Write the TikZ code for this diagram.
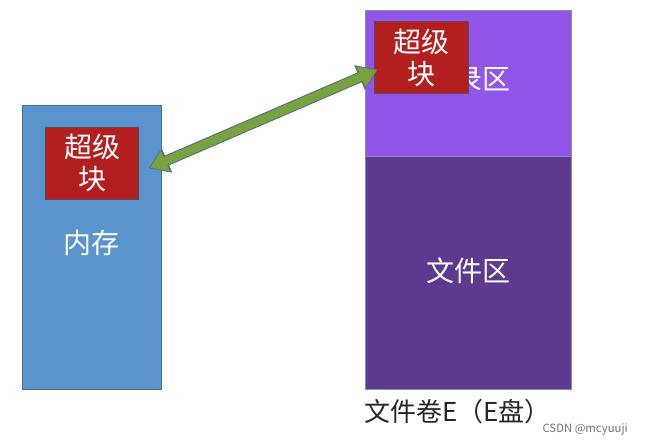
\documentclass[tikz,border=0pt]{standalone}
\usepackage{fontspec}
\setmainfont{Noto Sans CJK SC}
\usetikzlibrary{arrows.meta,positioning}
\definecolor{memblue}{HTML}{5B94CD}
\definecolor{memedge}{HTML}{41719C}
\definecolor{sbred}{HTML}{B31E1E}
\definecolor{sbedge}{HTML}{5A4A5A}
\definecolor{dirpurple}{HTML}{9156E9}
\definecolor{filepurple}{HTML}{5D3A8F}
\definecolor{voledge}{HTML}{7E8FB0}
\definecolor{arrgreen}{HTML}{78A13F}
\definecolor{arredge}{HTML}{52707E}
\begin{document}
\begin{tikzpicture}[x=0.75pt,y=-0.75pt,
  region/.style={draw=#1, line width=0.6pt, inner sep=0pt, outer sep=0pt},
  sblock/.style={fill=sbred, draw=sbedge, line width=0.6pt, minimum width=70pt, minimum height=54pt,
     inner sep=0pt, outer sep=0pt, text=white, font=\fontsize{21}{26}\selectfont, align=center},
  wlabel/.style={text=white, font=\fontsize{21}{26}\selectfont, inner sep=0pt},
]
\useasboundingbox (0,0) rectangle (645,446);
\fill[white] (0,0) rectangle (645,446);
% memory
\node[region=memedge, fill=memblue, minimum width=104.25pt, minimum height=213pt] (mem) at (91.5,247) {};
\node[wlabel] (memlbl) at (91.5,243) {内存};
\node[sblock] (sbL) at (92,163) {超级\\[-2pt]块};
% volume
\node[region=voledge, fill=dirpurple, minimum width=154.5pt, minimum height=109.5pt, anchor=north west] (dir) at (365,10) {};
\node[region=voledge, fill=filepurple, minimum width=154.5pt, minimum height=174.75pt, anchor=north west] (files) at (365,156) {};
\node[wlabel] (dirlbl) at (468,80) {目录区};
\node[wlabel] (filelbl) at (468,271) {文件区};
\node[sblock] (sbR) at (421.5,57.5) {超级\\[-2pt]块};
\node[font=\fontsize{19.5}{24}\selectfont, text=black!85, anchor=west, inner sep=0pt] (vollbl) at (364,412) {文件卷E（E盘）};
\node[font=\fontsize{8.5}{10}\selectfont, text=black!55, anchor=east, inner sep=0pt] (wm) at (628,429) {CSDN @mcyuuji};
% arrow
\coordinate (aL) at ([xshift=7.5pt,yshift=-4pt]sbL.east);
\coordinate (aR) at ([xshift=2.25pt,yshift=-9pt]sbR.west);
\draw[arredge, line width=8pt, {Triangle[length=15pt,width=19pt]}-{Triangle[length=15pt,width=19pt]}] (aL) -- (aR);
\draw[arrgreen, line width=6.5pt, shorten <=1.2pt, shorten >=1.2pt, {Triangle[length=12.5pt,width=16pt]}-{Triangle[length=12.5pt,width=16pt]}] (aL) -- (aR);
\end{tikzpicture}
\end{document}
